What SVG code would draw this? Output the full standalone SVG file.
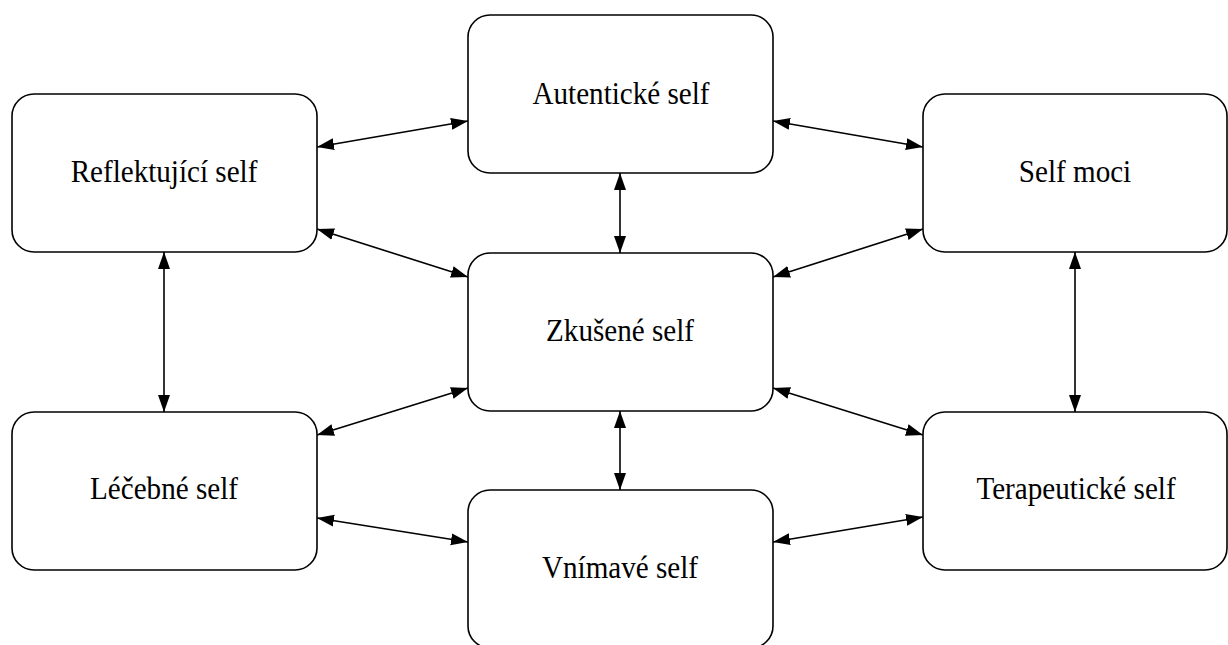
<svg xmlns="http://www.w3.org/2000/svg" width="1228" height="645" viewBox="0 0 1228 645">
<style>
.node rect{fill:#fff;stroke:#000;stroke-width:1.6}
.node text{font-family:"Liberation Serif","Times New Roman",serif;font-size:32px;text-anchor:middle;fill:#000}
.edges line{stroke:#000;stroke-width:1.6;marker-start:url(#ah);marker-end:url(#ah)}
</style>
<defs>
<marker id="ah" markerUnits="userSpaceOnUse" markerWidth="18" markerHeight="13" refX="17" refY="6.5" orient="auto-start-reverse" viewBox="0 0 18 13">
<path d="M0,0.5 L17,6.5 L0,12.5 Z" fill="#000"/>
</marker>
</defs>
<rect width="1228" height="645" fill="#fff"/>
<g class="edges">
<line x1="317" y1="147" x2="468" y2="121"/>
<line x1="773" y1="121" x2="923" y2="147"/>
<line x1="620" y1="173" x2="620" y2="253"/>
<line x1="317" y1="229" x2="468" y2="277"/>
<line x1="923" y1="229" x2="773" y2="277"/>
<line x1="164" y1="252" x2="164" y2="412"/>
<line x1="1075" y1="252" x2="1075" y2="412"/>
<line x1="468" y1="388" x2="317" y2="435"/>
<line x1="773" y1="388" x2="923" y2="435"/>
<line x1="620" y1="411" x2="620" y2="490"/>
<line x1="317" y1="518" x2="468" y2="542"/>
<line x1="773" y1="542" x2="923" y2="517"/>
</g>
<g id="autenticke" class="node"><rect x="468" y="15" width="305" height="158" rx="22"/><text transform="translate(621,104) scale(0.91,1)">Autentické self</text></g>
<g id="reflektujici" class="node"><rect x="12" y="94" width="305" height="158" rx="22"/><text transform="translate(164,182) scale(0.91,1)">Reflektující self</text></g>
<g id="selfmoci" class="node"><rect x="923" y="94" width="304" height="158" rx="22"/><text transform="translate(1075,182) scale(0.91,1)">Self moci</text></g>
<g id="zkusene" class="node"><rect x="468" y="253" width="305" height="158" rx="22"/><text transform="translate(620,341) scale(0.91,1)">Zkušené self</text></g>
<g id="lecebne" class="node"><rect x="12" y="412" width="305" height="158" rx="22"/><text transform="translate(164,499) scale(0.91,1)">Léčebné self</text></g>
<g id="terapeuticke" class="node"><rect x="923" y="412" width="304" height="158" rx="22"/><text transform="translate(1076,499) scale(0.91,1)">Terapeutické self</text></g>
<g id="vnimave" class="node"><rect x="468" y="490" width="305" height="158" rx="22"/><text transform="translate(620,578) scale(0.91,1)">Vnímavé self</text></g>
</svg>
